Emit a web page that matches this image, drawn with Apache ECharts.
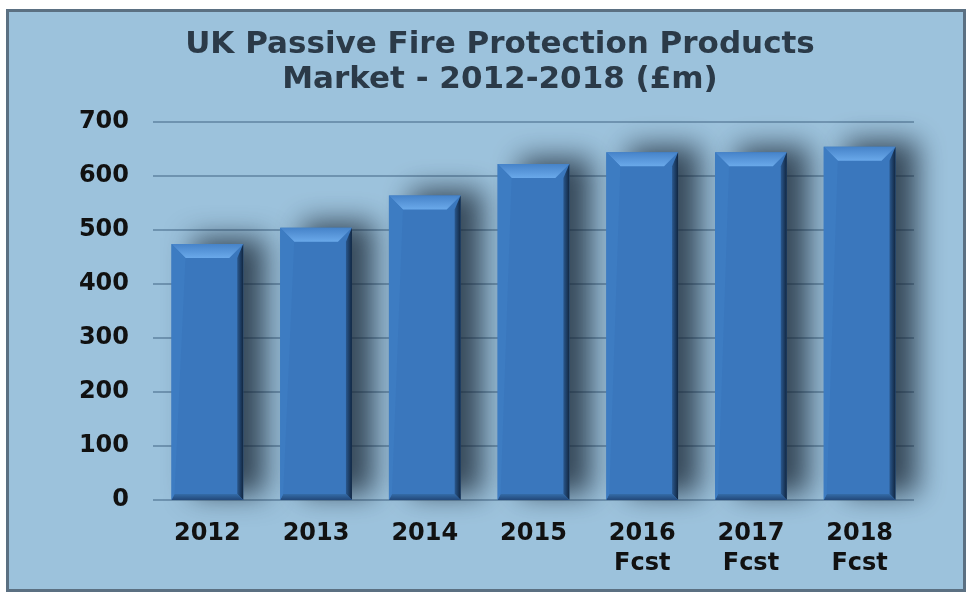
<!DOCTYPE html>
<html>
<head>
<meta charset="utf-8">
<script src="https://cdn.jsdelivr.net/npm/echarts@6/dist/echarts.min.js"></script>
<style>
html,body{margin:0;padding:0;background:#ffffff;}
#chart{width:972px;height:600px;}
</style>
</head>
<body>
<div id="chart"></div>
<script>
const categories = ['2012', '2013', '2014', '2015', '2016\nFcst', '2017\nFcst', '2018\nFcst'];
const marketValues = [474, 504, 564, 622, 644, 644, 654];
const yTicks = [0, 100, 200, 300, 400, 500, 600, 700];

const chart = echarts.init(document.getElementById('chart'));
const FONT = '"DejaVu Sans", Verdana, sans-serif';

function renderBar(params, api) {
  const idx = api.value(0);
  const top = api.coord([idx, api.value(1)]);
  const base = api.coord([idx, 0]);
  const w = api.size([1, 0])[0] * 0.66;
  const x0 = top[0] - w / 2, x1 = top[0] + w / 2;
  const y0 = top[1], y1 = base[1];
  const bv = 14, re = 6, be = 6;
  return {
    type: 'group',
    children: [
      { type: 'rect', shape: { x: x0, y: y0, width: w, height: y1 - y0 },
        style: { fill: '#3a77bd', shadowBlur: 28, shadowOffsetX: 22, shadowOffsetY: -6, shadowColor: 'rgba(20,32,45,0.75)' } },
      { type: 'polygon', shape: { points: [[x0, y0], [x1, y0], [x1 - bv, y0 + bv], [x0 + bv, y0 + bv]] },
        style: { fill: new echarts.graphic.LinearGradient(0, 0, 0, 1, [{ offset: 0, color: '#4683c9' }, { offset: 1, color: '#6aa9ea' }]) } },
      { type: 'polygon', shape: { points: [[x1, y0], [x1, y1], [x1 - re, y1 - be], [x1 - re, y0 + bv]] },
        style: { fill: new echarts.graphic.LinearGradient(0, 0, 1, 0, [{ offset: 0, color: '#2a578c' }, { offset: 1, color: '#112640' }]) } },
      { type: 'polygon', shape: { points: [[x0, y1], [x1, y1], [x1 - re, y1 - be], [x0 + 3, y1 - be]] },
        style: { fill: new echarts.graphic.LinearGradient(0, 0, 0, 1, [{ offset: 0, color: '#346ca8' }, { offset: 1, color: '#22487a' }]) } },
      { type: 'polygon', shape: { points: [[x0, y0], [x0 + bv, y0 + bv], [x0 + 3, y1 - be], [x0, y1]] },
        style: { fill: '#3d7cc2' } }
    ]
  };
}

chart.setOption({
  animation: false,
  backgroundColor: '#ffffff',
  graphic: [{
    type: 'rect', z: -10, silent: true,
    shape: { x: 7.5, y: 10.5, width: 957, height: 580 },
    style: { fill: '#9cc2dc', stroke: '#5b7082', lineWidth: 3 }
  }],
  title: {
    text: 'UK Passive Fire Protection Products\nMarket - 2012-2018 (£m)',
    left: 495, textAlign: 'center', top: 22,
    textStyle: { fontFamily: FONT, fontSize: 31, fontWeight: 'bold', color: '#2b3a48', lineHeight: 35 }
  },
  grid: { left: 153, right: 58, top: 122, bottom: 100 },
  xAxis: {
    type: 'category', data: categories,
    axisLine: { show: false }, axisTick: { show: false },
    axisLabel: { fontFamily: FONT, fontSize: 24, fontWeight: 'bold', color: '#111111', margin: 19, lineHeight: 30, verticalAlign: 'top' }
  },
  yAxis: {
    type: 'value', min: 0, max: 700, interval: 100,
    axisLine: { show: false }, axisTick: { show: false },
    splitLine: { lineStyle: { color: '#6e93b0', width: 2 } },
    axisLabel: { fontFamily: FONT, fontSize: 24, fontWeight: 'bold', color: '#111111', margin: 24,
      formatter: v => yTicks.includes(v) ? String(v) : '' }
  },
  series: [{
    type: 'custom',
    data: marketValues.map((v, i) => [i, v]),
    encode: { x: 0, y: 1 },
    renderItem: renderBar
  }]
});
</script>
</body>
</html>
